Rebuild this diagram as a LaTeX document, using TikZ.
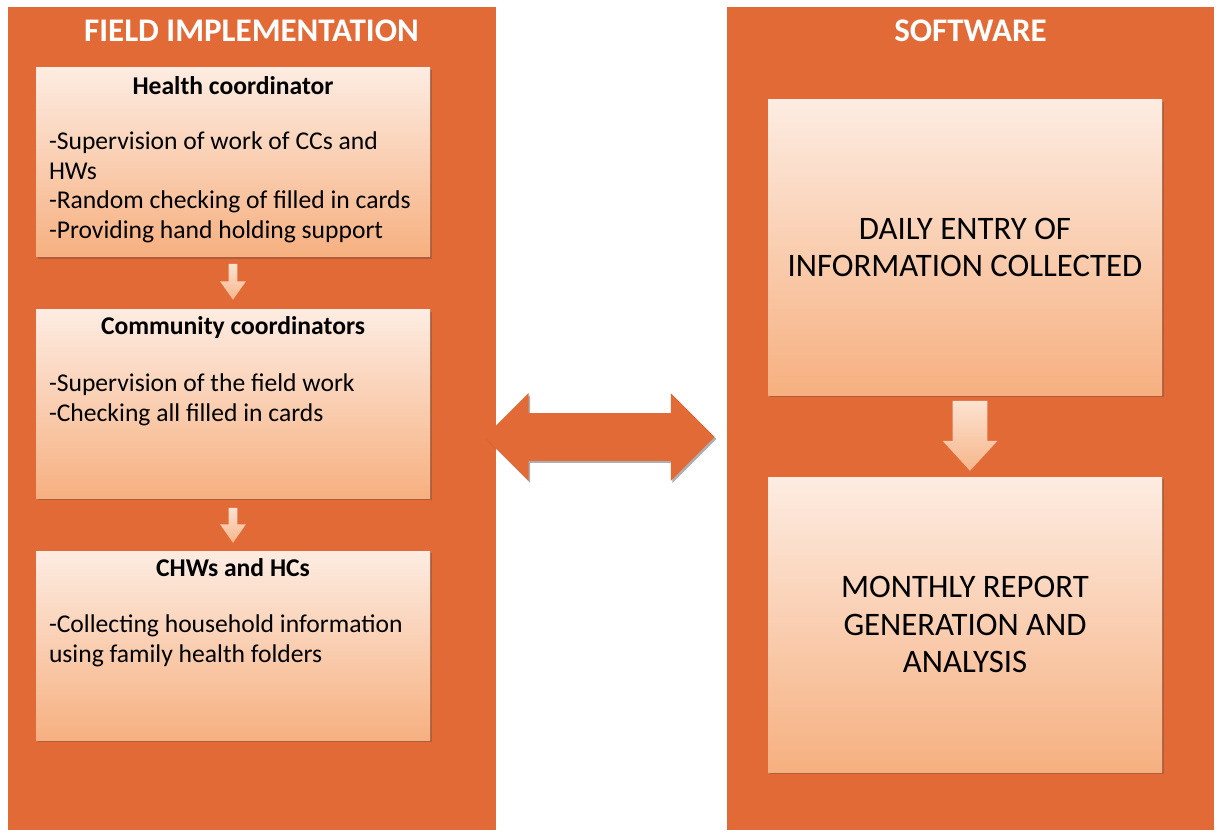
\documentclass[tikz,border=0pt]{standalone}
\usepackage{fontspec}
\setmainfont{Carlito}
\usepackage{tikz}
\usetikzlibrary{calc,positioning,shapes.arrows,shadows}
\definecolor{panelOrange}{RGB}{226,106,54}
\definecolor{boxTop}{RGB}{253,236,226}
\definecolor{boxBot}{RGB}{246,176,128}
\definecolor{peachTop}{RGB}{252,226,208}
\definecolor{peachBot}{RGB}{246,182,138}

\begin{document}
\begin{tikzpicture}[x=0.5pt, y=-0.5pt,
  panel/.style={fill=panelOrange, inner sep=0, minimum width=244pt, minimum height=411.5pt},
  card/.style={top color=boxTop, bottom color=boxBot, inner sep=0, minimum width=197pt,
    drop shadow={shadow xshift=0.8pt, shadow yshift=-1.2pt, opacity=0.35, fill=black!70}},
  paneltitle/.style={font=\bfseries\fontsize{16.5}{19}\selectfont, text=white, inner sep=0},
  heading/.style={font=\bfseries\fontsize{12.8}{15}\selectfont, inner sep=0, anchor=north},
  bullets/.style={font=\fontsize{12.8}{14.8}\selectfont, inner sep=0, anchor=north west, align=left},
  bigtext/.style={font=\fontsize{16.4}{18.8}\selectfont, align=center},
  downarrow/.style={single arrow, shape border rotate=270, anchor=tail,
    top color=peachTop, bottom color=peachBot},
  bothways/.style={double arrow, inner sep=11.75pt, fill=panelOrange, minimum height=115pt,
    double arrow head extend=10pt, double arrow tip angle=90,
    drop shadow={shadow xshift=0.8pt, shadow yshift=-1pt, opacity=0.45, fill=black!70}}]
  \useasboundingbox (0,0) rectangle (1221,834);

  % the two columns
  \node[panel] (field) at (251.5,418.5) {};
  \node[panel, minimum width=243.5pt] (soft) at (970.5,418.5) {};
  \node[paneltitle] (fieldT) at ($(field.north)+(0,24)$) {FIELD IMPLEMENTATION};
  \node[paneltitle] (softT) at ($(soft.north)+(0,24)$) {SOFTWARE};

  % field side, top to bottom
  \node[card, minimum height=94.5pt] (hc) at (233,162.5) {};
  \node[heading] (hcT) at ($(hc.north)+(0,9)$) {Health coordinator};
  \node[bullets] (hcB) at ($(hc.north west)+(13,64)$)
    {-Supervision of work of CCs and\\HWs\\-Random checking of filled in cards\\-Providing hand holding support};

  \node[card, minimum height=94pt] (cc) at (233,404) {};
  \node[heading] (ccT) at ($(cc.north)+(0,7)$) {Community coordinators};
  \node[bullets] (ccB) at ($(cc.north west)+(13,64)$)
    {-Supervision of the field work\\-Checking all filled in cards};

  \node[card, minimum height=94.5pt] (chw) at (233,645.5) {};
  \node[heading] (chwT) at ($(chw.north)+(0,8)$) {CHWs and HCs};
  \node[bullets] (chwB) at ($(chw.north west)+(13,64)$)
    {-Collecting household information\\using family health folders};

  \node[downarrow, inner sep=2pt, minimum height=18pt, single arrow head extend=4.25pt,
    single arrow tip angle=70] (a1) at ($(hc.south)+(0,6)$) {};
  \node[downarrow, inner sep=2pt, minimum height=17.5pt, single arrow head extend=4.25pt,
    single arrow tip angle=70] (a2) at ($(cc.south)+(0,9)$) {};

  % software side
  \node[card, bigtext, minimum height=147.5pt] (entry) at (965,247.5)
    {DAILY ENTRY OF\\INFORMATION COLLECTED};
  \node[card, bigtext, minimum height=147.5pt] (report) at (965,624.5)
    {MONTHLY REPORT\\GENERATION AND\\ANALYSIS};
  \node[downarrow, inner sep=8.5pt, minimum height=35pt, single arrow head extend=5pt,
    single arrow tip angle=85] (a3) at ($(entry.south)+(5,5)$) {};

  % link between the columns
  \node[bothways] (link) at ($(field.east)!0.45!(soft.west)+(0,18.5)$) {};
\end{tikzpicture}
\end{document}
